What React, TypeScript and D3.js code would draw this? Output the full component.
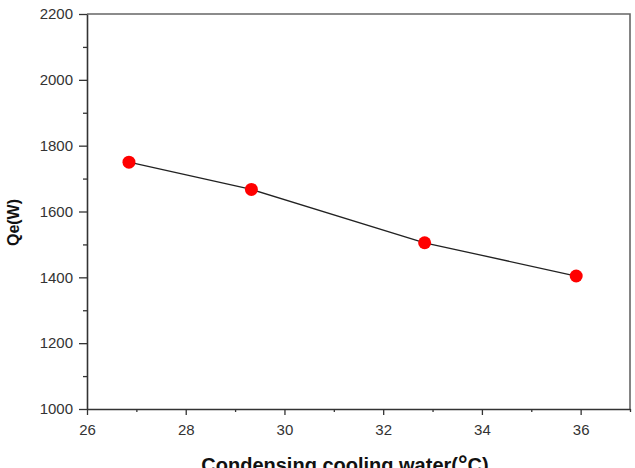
import { useEffect, useRef } from 'react';
import * as d3 from 'd3';

const tempC = [26.85, 29.33, 32.84, 35.91];
const qeW = [1750, 1667, 1505, 1404];
const xTicks = [26, 28, 30, 32, 34, 36];
const xMinor = [27, 29, 31, 33, 35, 37];
const yTicks = [1000, 1200, 1400, 1600, 1800, 2000, 2200];
const yMinor = [1100, 1300, 1500, 1700, 1900, 2100];

export default function App() {
  const ref = useRef<SVGSVGElement>(null);
  const width = 635;
  const height = 468;
  const left = 87;
  const right = 630;
  const top = 14;
  const bottom = 409;

  useEffect(() => {
    const svg = d3.select(ref.current);
    svg.selectAll('*').remove();

    const x = d3.scaleLinear().domain([26, 37]).range([left, right]);
    const y = d3.scaleLinear().domain([1000, 2200]).range([bottom, top]);

    const axisColor = '#333';
    const font = 'Arial, "Liberation Sans", sans-serif';

    // frame top / right
    svg.append('path')
      .attr('d', `M${left},${top}H${right}V${bottom}`)
      .attr('fill', 'none')
      .attr('stroke', '#666')
      .attr('stroke-width', 1.6);

    const xAxis = svg.append('g')
      .attr('transform', `translate(0, ${bottom})`)
      .call(d3.axisBottom(x).tickValues(xTicks).tickFormat(d3.format('d')).tickSize(6).tickPadding(9).tickSizeOuter(0));
    svg.append('g')
      .attr('transform', `translate(0, ${bottom})`)
      .call(d3.axisBottom(x).tickValues(xMinor).tickSize(3).tickFormat(() => '').tickSizeOuter(0))
      .call((g) => g.select('.domain').remove());

    const yAxis = svg.append('g')
      .attr('transform', `translate(${left}, 0)`)
      .call(d3.axisLeft(y).tickValues(yTicks).tickFormat(d3.format('d')).tickSize(8).tickPadding(6).tickSizeOuter(0));
    svg.append('g')
      .attr('transform', `translate(${left}, 0)`)
      .call(d3.axisLeft(y).tickValues(yMinor).tickSize(4).tickFormat(() => '').tickSizeOuter(0))
      .call((g) => g.select('.domain').remove());

    [xAxis, yAxis].forEach((g) => {
      g.select('.domain').attr('stroke', axisColor).attr('stroke-width', 1.6);
      g.selectAll('text').attr('fill', axisColor).attr('font-size', 15).attr('font-family', font);
    });
    svg.selectAll('.tick line').attr('stroke', axisColor).attr('stroke-width', 1.3);

    const pts = tempC.map((t, i) => [t, qeW[i]] as [number, number]);
    const line = d3.line<[number, number]>().x((d) => x(d[0])).y((d) => y(d[1]));

    svg.append('path')
      .datum(pts)
      .attr('d', line)
      .attr('fill', 'none')
      .attr('stroke', '#222')
      .attr('stroke-width', 1.3);

    svg.append('g')
      .selectAll('circle')
      .data(pts)
      .enter()
      .append('circle')
      .attr('cx', (d) => x(d[0]))
      .attr('cy', (d) => y(d[1]))
      .attr('r', 6.5)
      .attr('fill', '#ff0000');

    svg.append('text')
      .attr('transform', `translate(19, ${(top + bottom) / 2 + 11}) rotate(-90)`)
      .attr('text-anchor', 'middle')
      .attr('font-family', font)
      .attr('font-weight', 'bold')
      .attr('font-size', 16)
      .attr('fill', '#111')
      .text('Qe(W)');

    const xt = svg.append('text')
      .attr('x', 345)
      .attr('y', 472)
      .attr('text-anchor', 'middle')
      .attr('font-family', font)
      .attr('font-weight', 'bold')
      .attr('font-size', 20)
      .attr('fill', '#111');
    xt.append('tspan').text('Condensing cooling water(');
    xt.append('tspan').attr('font-size', 24).text('°');
    xt.append('tspan').text('C)');
  }, []);

  return (
    <svg
      ref={ref}
      width={width}
      height={height}
      style={{ position: 'absolute', left: 0, top: 0, background: '#fff' }}
    />
  );
}
